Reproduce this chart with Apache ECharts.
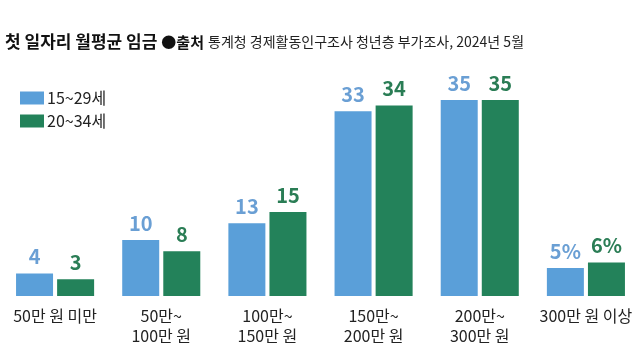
<!DOCTYPE html>
<html><head><meta charset="utf-8">
<script src="https://cdn.jsdelivr.net/npm/echarts@6/dist/echarts.min.js"></script>
<style>html,body{margin:0;padding:0;background:#fff}#c{width:640px;height:364px}</style>
</head><body><div id="c"></div>
<script>
const categories = ['50만 원 미만', '50만~\n100만 원', '100만~\n150만 원', '150만~\n200만 원', '200만~\n300만 원', '300만 원 이상'];
const seriesNames = ['15~29세', '20~34세'];
const youth1529 = [4, 10, 13, 33, 35, 5];
const youth2034 = [3, 8, 15, 34, 35, 6];
const titleMain = '첫 일자리 월평균 임금';
const titleSrcLabel = '●출처';
const titleSrc = '통계청 경제활동인구조사 청년층 부가조사, 2024년 5월';

const FONT = '"Noto Sans CJK KR", "Noto Sans", sans-serif';
const BLUE = '#5a9fd9', GREEN = '#23825a';
const BLUE_L = '#6a9fd4', GREEN_L = '#2a7d55';
const lastIdx = categories.length - 1;
function fmt(p){ return p.dataIndex === lastIdx ? p.value + '%' : String(p.value); }

const chart = echarts.init(document.getElementById('c'));
chart.setOption({
  animation: false,
  textStyle: { fontFamily: FONT },
  title: {
    left: 0, top: 28,
    text: '{a|' + titleMain + '} {b|' + titleSrcLabel + '} {c|' + titleSrc + '}',
    textStyle: {
      fontWeight: 'normal',
      rich: {
        a: { fontSize: 17, fontWeight: 'bold', color: '#111', fontFamily: FONT },
        b: { fontSize: 15, fontWeight: 'bold', color: '#111', fontFamily: FONT },
        c: { fontSize: 14, fontWeight: 'normal', color: '#222', fontFamily: FONT }
      }
    }
  },
  legend: {
    orient: 'vertical', left: 15, top: 85,
    itemWidth: 24, itemHeight: 13, itemGap: 7,
    icon: 'rect',
    textStyle: { fontSize: 16, color: '#222', fontFamily: FONT, padding: [0,0,0,-2] },
    data: seriesNames
  },
  grid: { left: 2, right: 1, top: 100, bottom: 68, containLabel: false },
  xAxis: {
    type: 'category', data: categories,
    axisLine: { show: false }, axisTick: { show: false },
    axisLabel: { fontSize: 16, color: '#222', lineHeight: 20, margin: 10, fontFamily: FONT, interval: 0 }
  },
  yAxis: { type: 'value', min: 0, max: 35, show: false, splitLine: { show: false } },
  series: [
    { name: seriesNames[0], type: 'bar', data: youth1529, barWidth: 37, barGap: '11%',
      itemStyle: { color: BLUE },
      label: { show: true, position: 'top', distance: 7, formatter: fmt,
        fontSize: 20, fontWeight: 'bold', color: BLUE_L, fontFamily: FONT } },
    { name: seriesNames[1], type: 'bar', data: youth2034, barWidth: 37, barGap: '11%',
      itemStyle: { color: GREEN },
      label: { show: true, position: 'top', distance: 7, formatter: fmt,
        fontSize: 20, fontWeight: 'bold', color: GREEN_L, fontFamily: FONT } }
  ]
});
</script></body></html>
